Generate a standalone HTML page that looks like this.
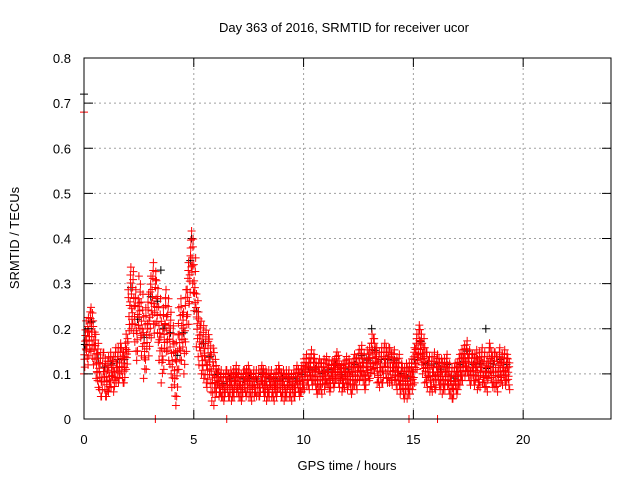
<!DOCTYPE html>
<html><head><meta charset="utf-8"><style>
body{margin:0;background:#fff;}
svg text{font-family:"Liberation Sans",sans-serif;font-size:13px;fill:#000;}
</style></head><body>
<svg id="chart" width="640" height="480" xmlns="http://www.w3.org/2000/svg">
<rect width="640" height="480" fill="#fff"/>
<g id="grid"></g>
<g id="black"></g>
<g id="red"></g>
<rect x="84" y="58" width="527" height="361" fill="none" stroke="#000" stroke-width="1"/>
<g id="ticks"></g>
<text x="344" y="32" text-anchor="middle">Day 363 of 2016, SRMTID for receiver ucor</text>
<text x="347" y="470" text-anchor="middle">GPS time / hours</text>
<text transform="translate(19,238) rotate(-90)" text-anchor="middle">SRMTID / TECUs</text>
</svg>
<script>
const xTicks=[0,5,10,15,20];
const yTicks=[0,0.1,0.2,0.3,0.4,0.5,0.6,0.7,0.8];
const yTickLabels=["0","0.1","0.2","0.3","0.4","0.5","0.6","0.7","0.8"];
const startHour=0, stepHour=0.1;
const centre=[0.15,0.17,0.19,0.20,0.17,0.14,0.12,0.10,0.10,0.10,
0.09,0.10,0.11,0.10,0.12,0.12,0.13,0.12,0.12,0.15,
0.22,0.27,0.26,0.22,0.20,0.25,0.21,0.16,0.18,0.21,
0.25,0.28,0.26,0.24,0.20,0.15,0.18,0.22,0.20,0.17,
0.14,0.10,0.12,0.18,0.20,0.17,0.22,0.28,0.33,0.35,
0.30,0.22,0.18,0.16,0.15,0.14,0.13,0.12,0.10,0.09,
0.09,0.08,0.08,0.07,0.08,0.08,0.08,0.07,0.08,0.09,
0.08,0.07,0.08,0.08,0.09,0.08,0.07,0.08,0.08,0.08,
0.08,0.09,0.08,0.07,0.08,0.08,0.07,0.08,0.09,0.08,
0.08,0.07,0.08,0.08,0.07,0.08,0.08,0.09,0.08,0.09,
0.10,0.11,0.10,0.12,0.11,0.10,0.09,0.10,0.09,0.10,
0.11,0.10,0.09,0.10,0.11,0.12,0.10,0.09,0.10,0.11,
0.10,0.09,0.10,0.11,0.10,0.12,0.13,0.11,0.10,0.12,
0.13,0.15,0.14,0.12,0.11,0.12,0.12,0.13,0.12,0.12,
0.11,0.12,0.10,0.11,0.09,0.08,0.09,0.08,0.09,0.10,
0.12,0.15,0.17,0.16,0.14,0.12,0.11,0.10,0.10,0.11,
0.10,0.11,0.10,0.09,0.10,0.11,0.09,0.08,0.08,0.09,
0.10,0.11,0.12,0.13,0.14,0.12,0.11,0.11,0.12,0.10,
0.11,0.12,0.11,0.10,0.13,0.12,0.11,0.11,0.10,0.12,
0.11,0.12,0.11,0.10];
const hourSpread=[0.05,0.04,0.07,0.07,0.07,0.06,0.03,0.03,0.03,0.03,0.035,0.03,0.035,0.04,0.035,0.04,0.035,0.035,0.04,0.035];
const outlierTimes=[0.0,3.25,6.5,14.8,16.1];
const outlierValues=[0.68,0.0,0.0,0.0,0.0];
const blackOutlierTimes=[0.0,3.5,4.9,13.1,18.3];
const blackOutlierValues=[0.72,0.33,0.4,0.2,0.2];

const X=t=>84+t*(527/24);
const Y=v=>419-v*(361/0.8);
const NS="http://www.w3.org/2000/svg";
function el(tag,parent,attrs){const e=document.createElementNS(NS,tag);for(const k in attrs)e.setAttribute(k,attrs[k]);parent.appendChild(e);return e;}
const grid=document.getElementById('grid'),ticks=document.getElementById('ticks');
yTicks.forEach((v,i)=>{
  if(i>0&&i<yTicks.length-1){const g=el('line',grid,{x1:84,x2:611,y1:Y(v),y2:Y(v),stroke:'#a0a0a0','stroke-dasharray':'2,3'});
  
  }
  el('line',ticks,{x1:84,x2:93,y1:Y(v),y2:Y(v),stroke:'#000'});
  el('line',ticks,{x1:602,x2:611,y1:Y(v),y2:Y(v),stroke:'#000'});
  const t=el('text',ticks,{x:71,y:Y(v)+5,'text-anchor':'end'});t.textContent=yTickLabels[i];
  
  
});
xTicks.forEach(h=>{
  if(h>0){const g=el('line',grid,{x1:X(h),x2:X(h),y1:58,y2:419,stroke:'#a0a0a0','stroke-dasharray':'2,3'});
  
  }
  el('line',ticks,{x1:X(h),x2:X(h),y1:410,y2:419,stroke:'#000'});
  el('line',ticks,{x1:X(h),x2:X(h),y1:58,y2:67,stroke:'#000'});
  const t=el('text',ticks,{x:X(h),y:444,'text-anchor':'middle'});t.textContent=String(h);
  
  
});
function cross(parent,t,v,color){
  const x=X(t),y=Y(v);
  const p=el('path',parent,{d:`M${x-4},${y}h8M${x},${y-4}v8`,stroke:color,'stroke-width':1,fill:'none'});
  
  
}
const ks=[-1,0.45,-0.35,0.95,-0.7,0.1,0.7,-0.15], dts=[0,0.05,0.02,0.07,0.035,0.085,0.06,0.015];
const black=document.getElementById('black'),red=document.getElementById('red');
centre.forEach((c,i)=>{
  const t=startHour+i*stepHour,s=hourSpread[Math.min(19,Math.floor(t))];
  if(i%3===0) cross(black,t+0.04,c+s*0.3,'#000');
  ks.forEach((k0,j)=>{const k=ks[(j+i*3)%ks.length];cross(red,t+dts[j],Math.max(0.02,c+k*s),'#f00');});
});
blackOutlierTimes.forEach((t,i)=>cross(black,t,blackOutlierValues[i],'#000'));
outlierTimes.forEach((t,i)=>cross(red,t,outlierValues[i],'#f00'));
</script>
</body></html>
